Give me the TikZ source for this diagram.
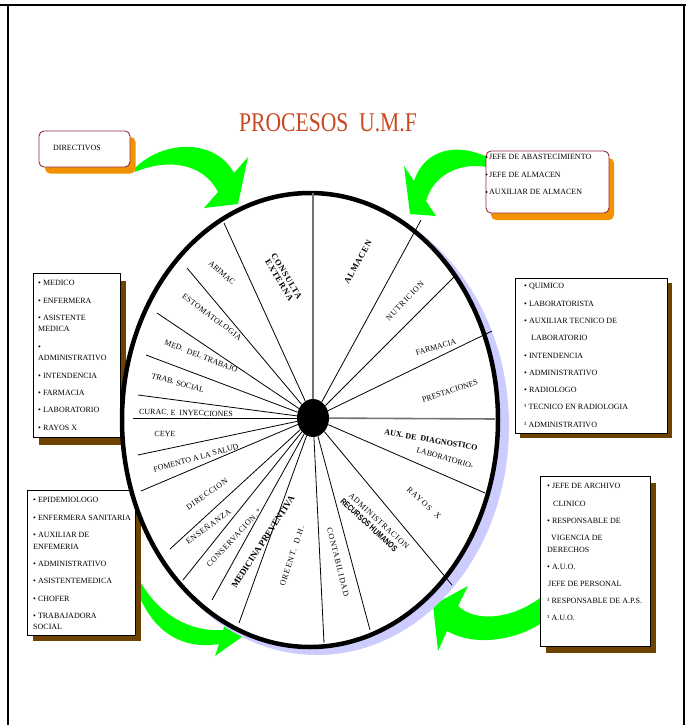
\documentclass[tikz,border=0pt]{standalone}
\usepackage{fontspec}
\setmainfont{Liberation Serif}
\newfontfamily\heavysans{Liberation Sans}
\usetikzlibrary{shapes.geometric}

\definecolor{titlered}{RGB}{200,72,32}
\definecolor{arrowgreen}{RGB}{0,255,0}
\definecolor{wheelshadow}{RGB}{204,204,255}
\definecolor{boxshadow}{RGB}{110,66,0}
\definecolor{roundshadow}{RGB}{243,146,0}
\definecolor{roundborder}{RGB}{150,40,60}

% letter-spaced text
\newcommand\wspaced[2]{{\addfontfeature{LetterSpace=#1}#2}}

\begin{document}
\begin{tikzpicture}[x=1pt,y=-1pt,
  lbl/.style={font=\fontsize{8}{9}\selectfont, inner sep=0pt},
  lblb/.style={font=\fontsize{8.5}{9}\selectfont\bfseries, inner sep=0pt},
  btext/.style={font=\fontsize{8}{17.3}\selectfont, align=left, anchor=north west, inner sep=0pt},
  spoke/.style={line width=0.8pt},
  mainspoke/.style={line width=1.6pt, draw=black!55},
  greenarrow/.style={fill=arrowgreen},
  sqshadow/.style={fill=boxshadow},
  sqbox/.style={draw=black, line width=0.7pt, fill=white},
  rdshadow/.style={fill=roundshadow, rounded corners=5pt},
  rdbox/.style={draw=roundborder, line width=0.9pt, fill=white, rounded corners=5pt},
]
\useasboundingbox (0,0) rectangle (686,725);

% page frame
\draw[line width=2pt] (0,5) -- (686,5) (8,5) -- (8,725) (684,5) -- (684,725);

% green curved arrows (behind boxes and wheel)
\fill[greenarrow] (135,168) .. controls (163,140) and (215,138) .. (234,173)
  -- (248,157) -- (238,204) -- (204,208) -- (218,192)
  .. controls (203,163) and (168,158) .. (135,172) -- cycle;
\fill[greenarrow] (487,157) .. controls (458,143) and (425,148) .. (414,181)
  -- (404,166) -- (410,214) -- (436,216) -- (426,201)
  .. controls (433,176) and (458,162) .. (487,167) -- cycle;
\fill[greenarrow] (141,583) .. controls (160,615) and (190,632) .. (223,630)
  -- (227,618) -- (242,637) -- (215,656) -- (219,644)
  .. controls (180,650) and (155,630) .. (141,600) -- cycle;
\fill[greenarrow] (540,598) .. controls (510,620) and (475,622) .. (458,606)
  -- (468,586) -- (433,605) -- (438,651) -- (447,631)
  .. controls (475,647) and (515,640) .. (540,624) -- cycle;

% title
\node[font=\fontsize{27}{27}\selectfont, text=titlered, inner sep=0pt] (title) at (328,123)
  {\scalebox{0.8}[1]{PROCESOS\ \ U.M.F}};

% rounded boxes
\fill[rdshadow] (45,137) rectangle (135.5,173.5);
\draw[rdbox] (39,131) rectangle (130,167);
\node[font=\fontsize{8}{9}\selectfont, anchor=west, inner sep=0pt] (directivos) at (53,148) {DIRECTIVOS};

\fill[rdshadow] (491,158) rectangle (614,220);
\draw[rdbox] (486,151) rectangle (609,213);
\node[btext, font=\fontsize{8}{17.5}\selectfont] (almacen-staff) at (489,154.3)
  {JEFE DE ABASTECIMIENTO\\ JEFE DE ALMACEN\\ AUXILIAR DE ALMACEN};
\foreach \yy in {157,174.5,192} \fill (486.5,\yy) circle (1pt);

% square boxes with staff lists
\fill[sqshadow] (39,281) rectangle (126,445);
\draw[sqbox] (33,273) rectangle (120,437);
\node[btext] (left-staff) at (38,280.3)
  {• MEDICO\\ • ENFERMERA\\ • ASISTENTE\\[-6pt] MEDICA\\ •\\[-5.5pt] ADMINISTRATIVO\\
   • INTENDENCIA\\ • FARMACIA\\ • LABORATORIO\\ • RAYOS X};

\fill[sqshadow] (520,283) rectangle (672,438);
\draw[sqbox] (515,278) rectangle (667,433);
\node[btext] (right-staff) at (524,283.3)
  {• QUIMICO\\ • LABORATORISTA\\ • AUXILIAR TECNICO DE\\ \hspace*{7pt}LABORATORIO\\
   • INTENDENCIA\\ • ADMINISTRATIVO\\ • RADIOLOGO\\ ¹ TECNICO EN RADIOLOGIA\\ ¹ ADMINISTRATIVO};

\fill[sqshadow] (33,496) rectangle (141,641);
\draw[sqbox] (27,490) rectangle (135,635);
\node[btext, font=\fontsize{8}{17.2}\selectfont] (lowleft-staff) at (33,497.3)
  {• EPIDEMIOLOGO\\ • ENFERMERA SANITARIA\\ • AUXILIAR DE\\[-5pt] ENFEMERIA\\
   • ADMINISTRATIVO\\ • ASISTENTEMEDICA\\ • CHOFER\\ • TRABAJADORA\\[-6pt] SOCIAL};

\fill[sqshadow] (546,483) rectangle (656,653);
\draw[sqbox] (540,476) rectangle (650,646);
\node[btext, font=\fontsize{8}{17.2}\selectfont] (lowright-staff) at (547,483.3)
  {• JEFE DE ARCHIVO\\ \hspace*{6pt}CLINICO\\ • RESPONSABLE DE\\ \hspace*{4pt}VIGENCIA DE\\[-5pt]
   DERECHOS\\ • A.U.O.\\[-1pt] \hspace*{1pt}JEFE DE PERSONAL\\ ¹ RESPONSABLE DE A.P.S.\\ ¹ A.U.O.};

% the wheel
\fill[wheelshadow] (317,426) ellipse [x radius=192pt, y radius=229pt];
\draw[line width=4.5pt, fill=white] (310,420) ellipse [x radius=188pt, y radius=227pt];

% spoke ends on the rim
\coordinate (r1) at (313,193);
\coordinate (r2) at (224,223);
\coordinate (r3) at (187,268);
\coordinate (r4) at (157,313);
\coordinate (r5) at (146,355);
\coordinate (r6) at (138,395);
\coordinate (r7) at (133,418);
\coordinate (r8) at (138,455);
\coordinate (r9) at (141,491);
\coordinate (r10) at (170,549);
\coordinate (r11) at (183,580);
\coordinate (r12) at (212,600);
\coordinate (r13) at (239,623);
\coordinate (r14) at (324,643);
\coordinate (r15) at (370,630);
\coordinate (r16) at (452,585);
\coordinate (r17) at (485,493);
\coordinate (r18) at (495,419);
\coordinate (r19) at (492,331);
\coordinate (r20) at (454,277);
\coordinate (r21) at (421,220);

\node[ellipse, fill=black, minimum width=32pt, minimum height=38pt, inner sep=0pt] (hub) at (313,418) {};

\draw[mainspoke] (hub) -- (r1);
\draw[mainspoke] (hub) -- (r18);
\foreach \k in {2,...,17,19,20,21} \draw[spoke] (hub) -- (r\k);

% segment labels
\node[lblb, align=center, font=\fontsize{8.5}{8.5}\selectfont\bfseries, rotate=-59] (consulta) at (283,278)
  {\wspaced{10}{CONSULTA}\\ \wspaced{10}{EXTERNA}};
\node[lbl, rotate=-41] (arimac) at (222,273) {ARIMAC};
\node[lbl, rotate=-36.6] (estomatologia) at (212,317) {\wspaced{5}{ESTOMATOLOGIA}};
\node[lbl, rotate=-21] (medtrabajo) at (201,356) {MED.\ \ DEL TRABAJO};
\node[lbl, rotate=-15.7] (trabsocial) at (178,383) {TRAB. SOCIAL};
\node[lbl, rotate=-1.4] (curac) at (186,413) {CURAC. E\ \ INYECCIONES};
\node[lbl, rotate=-2] (ceye) at (165,434) {CEYE};
\node[lbl, rotate=15.4] (fomento) at (196,458) {FOMENTO A LA SALUD};
\node[lbl, rotate=35] (direccion) at (207,494) {\wspaced{8}{DIRECCION}};
\node[lbl, rotate=36] (ensenanza) at (208,526) {\wspaced{8}{ENSEÑANZA}};
\node[lbl, rotate=47] (conservacion) at (234,538) {\wspaced{8}{CONSERVACION. °}};
\node[lblb, font=\fontsize{9}{9}\selectfont\bfseries, rotate=57] (medprev) at (263,542) {MEDICINA PREVENTIVA};
\node[lbl, rotate=72] (orient) at (292,556) {\wspaced{12}{OREENT.\ \ D.H.}};
\node[lbl, rotate=-76] (contabilidad) at (338,562) {\wspaced{12}{CONTABILIDAD}};
\node[lbl, rotate=-42.4] (administracion) at (379,521) {\wspaced{8}{ADMINISTRACION}};
\node[inner sep=0pt, font=\fontsize{8.5}{9}\heavysans\bfseries, rotate=-42.4] (rrhh) at (369,525)
  {\scalebox{0.78}[1]{RECURSOS HUMANOS}};
\node[lbl, rotate=-43] (rayos) at (424,503) {\wspaced{15}{RAYOS\ \ X}};
\node[lblb, font=\fontsize{8}{9}\selectfont\bfseries, rotate=-9.5] (auxdiag) at (431,440) {AUX. DE\ \ DIAGNOSTICO};
\node[lbl, rotate=-15.8] (laboratorio) at (445,458) {LABORATORIO{\fontsize{5}{5}\selectfont »}};
\node[lbl, rotate=18] (prestaciones) at (450,391) {PRESTACIONES};
\node[lbl, rotate=15.6] (farmacia) at (436,347) {FARMACIA};
\node[lbl, rotate=47] (nutricion) at (405,301) {\wspaced{12}{NUTRICION}};
\node[lblb, rotate=60.8] (almacen) at (358,262) {\wspaced{8}{ALMACEN}};
\end{tikzpicture}
\end{document}
